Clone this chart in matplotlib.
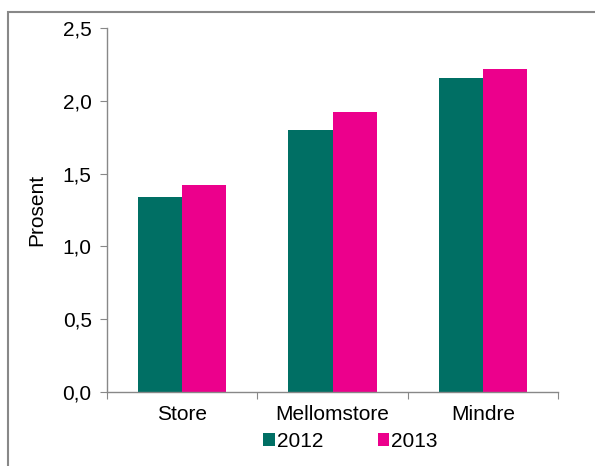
import matplotlib
matplotlib.use("Agg")
import matplotlib.pyplot as plt
import numpy as np
from matplotlib.patches import Rectangle

categories = ["Store", "Mellomstore", "Mindre"]
years = ["2012", "2013"]
v2012 = [1.34, 1.80, 2.16]
v2013 = [1.42, 1.92, 2.22]
colors = ["#006f64", "#ec008c"]

plt.rcParams["font.family"] = ["Liberation Sans", "DejaVu Sans"]
fs = 15

fig = plt.figure(figsize=(5.95, 4.66), dpi=100)
ax = fig.add_axes([107 / 595, 1 - 392 / 466, 451 / 595, 364 / 466])

x = np.arange(len(categories))
w = 0.293
ax.bar(x - w / 2, v2012, w, color=colors[0], label=years[0])
ax.bar(x + w / 2, v2013, w, color=colors[1], label=years[1])

ax.set_xlim(-0.5, 2.5)
ax.set_ylim(0, 2.5)
yt = np.arange(0, 2.51, 0.5)
ax.set_yticks(yt)
ax.set_yticklabels([f"{v:.1f}".replace(".", ",") for v in yt])
ax.set_xticks([-0.5, 0.5, 1.5, 2.5])
ax.set_xticklabels([])
ax.set_xticks(x, minor=True)
ax.set_xticklabels(categories, minor=True)
ax.tick_params(axis="x", which="minor", length=0, pad=9, labelsize=fs)
ax.tick_params(axis="x", which="major", length=5, color="#888888")
ax.tick_params(axis="y", length=5, color="#888888", labelsize=fs, pad=6)
ax.set_ylabel("Prosent", fontsize=fs, labelpad=12)

for s in ["top", "right"]:
    ax.spines[s].set_visible(False)
for s in ["left", "bottom"]:
    ax.spines[s].set_color("#888888")
    ax.spines[s].set_linewidth(1)

ax.legend(loc="center", bbox_to_anchor=(0.54, -0.135), ncol=2, frameon=False,
          fontsize=fs, handlelength=0.55, handleheight=0.55, handletextpad=0.1,
          columnspacing=2.6, borderpad=0)

# outer frame (cut off at right and bottom)
fig.patches.append(Rectangle((8 / 595, -0.1), 1.2, 1 - 12 / 466 + 0.1,
                             transform=fig.transFigure, fill=False,
                             edgecolor="#888888", linewidth=1.5))

fig.savefig("out.png", dpi=100)
